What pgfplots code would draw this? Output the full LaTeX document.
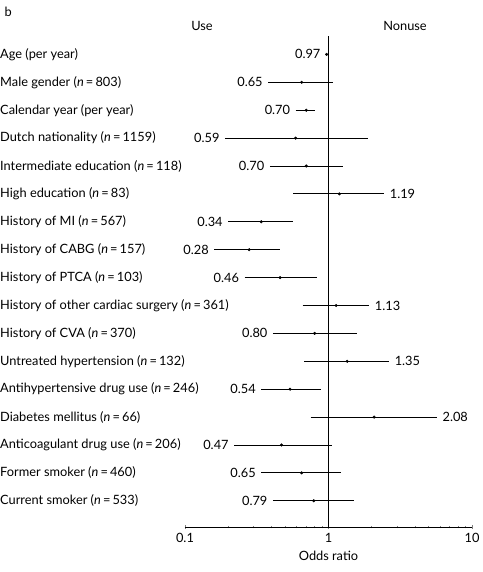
\documentclass[border=0pt]{standalone}
\usepackage{fontspec}
\setmainfont{Lato}
\usepackage{pgfplots}
\pgfplotsset{compat=1.18}
\usepackage{pgfplotstable}

% y = 16 - row index (Age at top)
\pgfplotstableread{
y  or   lo   hi   lab
16 0.97 0.96 0.98 0.97
15 0.65 0.38 1.08 0.65
14 0.70 0.59 0.81 0.70
13 0.59 0.19 1.87 0.59
12 0.70 0.39 1.27 0.70
11 1.19 0.57 2.45 1.19
10 0.34 0.20 0.57 0.34
9  0.28 0.16 0.46 0.28
8  0.46 0.26 0.83 0.46
7  1.13 0.66 1.93 1.13
6  0.80 0.41 1.59 0.80
5  1.35 0.68 2.65 1.35
4  0.54 0.34 0.89 0.54
3  2.08 0.75 5.71 2.08
2  0.47 0.22 1.05 0.47
1  0.65 0.34 1.23 0.65
0  0.79 0.41 1.51 0.79
}\ortable

\pgfplotstableread{
y  lo   lab
16 0.96 0.97
15 0.38 0.65
14 0.59 0.70
13 0.19 0.59
12 0.39 0.70
10 0.20 0.34
9  0.16 0.28
8  0.26 0.46
6  0.41 0.80
4  0.34 0.54
2  0.22 0.47
1  0.34 0.65
0  0.41 0.79
}\lefttable

\pgfplotstableread{
y  hi   lab
11 2.45 1.19
7  1.93 1.13
5  2.65 1.35
3  5.71 2.08
}\righttable

\begin{document}
\begin{tikzpicture}[font=\fontsize{12.8}{15}\selectfont]
\path[use as bounding box] (-185pt,-45pt) rectangle (297pt,527pt);
\begin{axis}[
  at={(0,0)}, anchor=south west,
  scale only axis, width=287pt, height=491pt,
  xmode=log, xmin=0.1, xmax=10,
  ymin=-0.94, ymax=16.66,
  axis x line=bottom, axis y line=left,
  axis line style={-, line width=0.7pt},
  y axis line style={draw=none},
  xtick={0.1,1,10}, xticklabels={0.1,1,10},
  minor xtick={}, 
  major tick length=4pt,
  xtick style={line width=0.7pt},
  ytick style={draw=none},
  xticklabel style={yshift=-1pt},
  ytick={0,...,16},
  yticklabels={
    Current smoker (\textit{n}\,=\,533),
    Former smoker (\textit{n}\,=\,460),
    Anticoagulant drug use (\textit{n}\,=\,206),
    Diabetes mellitus (\textit{n}\,=\,66),
    Antihypertensive drug use (\textit{n}\,=\,246),
    Untreated hypertension (\textit{n}\,=\,132),
    History of CVA (\textit{n}\,=\,370),
    History of other cardiac surgery (\textit{n}\,=\,361),
    History of PTCA (\textit{n}\,=\,103),
    History of CABG (\textit{n}\,=\,157),
    History of MI (\textit{n}\,=\,567),
    High education (\textit{n}\,=\,83),
    Intermediate education (\textit{n}\,=\,118),
    Dutch nationality (\textit{n}\,=\,1159),
    Calendar year (per year),
    Male gender (\textit{n}\,=\,803),
    Age (per year)},
  yticklabel style={anchor=west, inner xsep=0pt, xshift=-183pt},
  xlabel={Odds ratio},
  xlabel style={at={(axis description cs:0.5,0)}, anchor=center, yshift=-29pt},
  clip=false,
]
% reference line at OR = 1
\addplot[black, line width=0.8pt] coordinates {(1,-0.94) (1,16.66)};
% confidence intervals
\addplot[black, line width=0.8pt, unbounded coords=jump] coordinates {
 (0.96,16) (0.98,16) (nan,nan)
 (0.38,15) (1.08,15) (nan,nan)
 (0.59,14) (0.81,14) (nan,nan)
 (0.19,13) (1.87,13) (nan,nan)
 (0.39,12) (1.27,12) (nan,nan)
 (0.57,11) (2.45,11) (nan,nan)
 (0.20,10) (0.57,10) (nan,nan)
 (0.16,9) (0.46,9) (nan,nan)
 (0.26,8) (0.83,8) (nan,nan)
 (0.66,7) (1.93,7) (nan,nan)
 (0.41,6) (1.59,6) (nan,nan)
 (0.68,5) (2.65,5) (nan,nan)
 (0.34,4) (0.89,4) (nan,nan)
 (0.75,3) (5.71,3) (nan,nan)
 (0.22,2) (1.05,2) (nan,nan)
 (0.34,1) (1.23,1) (nan,nan)
 (0.41,0) (1.51,0)
};
% point estimates
\addplot[only marks, mark=*, mark size=1.3pt, black] table[x=or, y=y] {\ortable};
% value labels
\addplot[only marks, mark=none, nodes near coords, point meta=explicit symbolic,
  every node near coord/.append style={anchor=east, xshift=-2pt, font=\fontsize{12.8}{15}\selectfont}]
  table[x=lo, y=y, meta=lab] {\lefttable};
\addplot[only marks, mark=none, nodes near coords, point meta=explicit symbolic,
  every node near coord/.append style={anchor=west, xshift=2pt, font=\fontsize{12.8}{15}\selectfont}]
  table[x=hi, y=y, meta=lab] {\righttable};
\end{axis}
\node[anchor=west] at (-184pt,515pt) {b};
\node at (17pt,501pt) {Use};
\node at (220pt,501pt) {Nonuse};
\end{tikzpicture}
\end{document}
